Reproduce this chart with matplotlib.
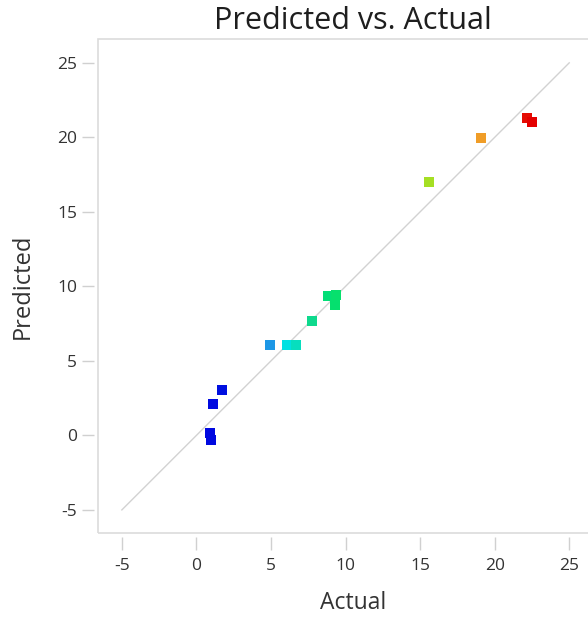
import matplotlib
matplotlib.use("Agg")
import matplotlib.pyplot as plt
from matplotlib.colors import LinearSegmentedColormap, Normalize
from matplotlib.patches import Rectangle

plt.rcParams['font.family'] = ['Open Sans', 'DejaVu Sans']

# Observed and model-predicted responses
actual = [1.72, 1.09, 0.89, 1.00, 4.92, 6.09, 6.71, 7.74, 8.81, 9.33, 9.26,
          15.59, 19.06, 22.19, 22.48]
predicted = [3.03, 2.08, 0.13, -0.33, 6.09, 6.09, 6.09, 7.66, 9.33, 9.44, 8.77,
             17.03, 19.94, 21.28, 21.05]
ticks = [-5, 0, 5, 10, 15, 20, 25]
line_ends = [-5, 25]

# Colour scale by actual value: blue -> cyan -> green -> yellow -> red
cmap = LinearSegmentedColormap.from_list(
    "resp",
    [(0.00, "#0008e0"), (0.04, "#0010e0"), (0.19, "#1e9ce6"), (0.24, "#00e2e2"),
     (0.31, "#10d890"), (0.38, "#00e070"), (0.68, "#a4e024"), (0.84, "#f0a028"),
     (1.00, "#e40000")])
norm = Normalize(vmin=min(actual), vmax=max(actual))

fig = plt.figure(figsize=(5.88, 6.22), dpi=100)
ax = fig.add_axes([98 / 588, 1 - 533 / 622, 510 / 588, 494 / 622])

ax.plot(line_ends, line_ends, color="#d2d2d2", lw=1.0, zorder=1)
ax.scatter(actual, predicted, marker="s", s=52, c=[cmap(norm(v)) for v in actual],
           edgecolors="none", zorder=3)

ax.set_xlim(-6.6, 27.6)
ax.set_ylim(-6.55, 26.6)
ax.set_xticks(ticks)
ax.set_yticks(ticks)
ax.set_xticklabels([str(t) for t in ticks])
ax.set_yticklabels([str(t) for t in ticks])

for s in ax.spines.values():
    s.set_visible(False)
    s.set_position(("outward", 3))
ax.add_patch(Rectangle((0, 0), 1, 1, transform=ax.transAxes, fill=False,
                       edgecolor="#dcdcdc", lw=1.2, clip_on=False, zorder=0))

ax.tick_params(direction="out", length=9, width=1, color="#d0d0d0",
               labelsize=12.5, labelcolor="#333333")
ax.tick_params(axis="x", pad=6)
ax.tick_params(axis="y", pad=3)

ax.set_xlabel("Actual", fontsize=16.5, color="#333333", labelpad=12)
ax.set_ylabel("Predicted", fontsize=17, color="#333333", labelpad=16)
ax.set_title("Predicted vs. Actual", fontsize=22, color="#1e1e1e", pad=7)

fig.savefig("out.png", dpi=100, facecolor="white")
